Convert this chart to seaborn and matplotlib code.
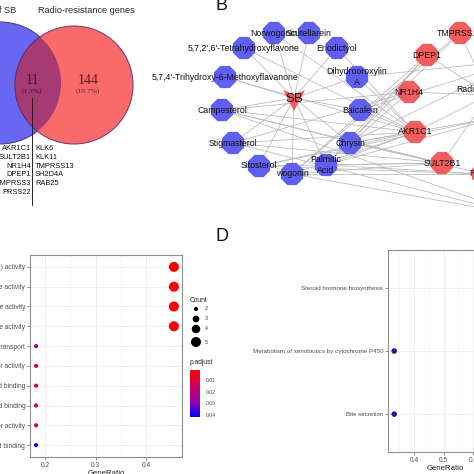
import matplotlib
matplotlib.use('Agg')
import numpy as np
import pandas as pd
import matplotlib.pyplot as plt
import seaborn as sns
from matplotlib.patches import Circle, Polygon
from matplotlib.collections import LineCollection
from matplotlib.colors import LinearSegmentedColormap, Normalize
from matplotlib.cm import ScalarMappable

sns.set_theme(style='white')
plt.rcParams['font.family'] = ['Liberation Sans', 'DejaVu Sans']

# ---------------- data ----------------
# A: venn
venn_titles = ['Targets of SB', 'Radio-resistance genes']
venn_counts = ['11', '144']
venn_pcts = ['(1.3%)', '(19.7%)']
shared_left = ['AKR1C1', 'SULT2B1', 'NR1H4', 'DPEP1', 'TMPRSS3', 'PRSS22']
shared_right = ['KLK6', 'KLK11', 'TMPRSS13', 'SH2D4A', 'RAB25']

# B: network
compounds = ['Norwogonin', 'Scutellarein', "5,7,2',6'-Tetrahydroxyflavone", 'Eriodictyol',
             "5,7,4'-Trihydroxy-6-Methoxyflavanone", 'Dihydrooroxylin\nA', 'Campesterol',
             'Baicalein', 'Stigmasterol', 'Chrysin', 'Sitosterol', 'wogonin', 'Palmitic\nAcid']
genes = ['TMPRSS13', 'DPEP1', 'NR1H4', 'AKR1C1', 'SULT2B1', 'RAB25', 'KLK6', 'KLK11', 'CYP4F11']
hub = 'SB'
radio = 'Radio-resistance\ngenes'
gene_links = {
    'AKR1C1': ['Norwogonin', "5,7,2',6'-Tetrahydroxyflavone", 'Eriodictyol',
               "5,7,4'-Trihydroxy-6-Methoxyflavanone", 'Dihydrooroxylin\nA', 'Campesterol',
               'Baicalein', 'Stigmasterol', 'Chrysin', 'Sitosterol', 'wogonin', 'Palmitic\nAcid'],
    'SULT2B1': ['Campesterol', 'Stigmasterol', 'Sitosterol', 'wogonin', 'Palmitic\nAcid', 'Chrysin'],
    'RAB25': ['wogonin', 'Palmitic\nAcid', 'Sitosterol', 'Campesterol'],
    'DPEP1': ['wogonin', 'Palmitic\nAcid', 'Chrysin'],
    'NR1H4': ['Palmitic\nAcid', 'Campesterol', 'Stigmasterol'],
    'TMPRSS13': ['Palmitic\nAcid', 'wogonin'],
    'KLK6': ['Chrysin', 'Baicalein', 'Dihydrooroxylin\nA'],
    'KLK11': ['Campesterol', 'Stigmasterol', 'wogonin'],
    'CYP4F11': ['Palmitic\nAcid', 'Sitosterol', 'Chrysin'],
}

# C: GO enrichment
go_terms = ['alcohol dehydrogenase (NADP+) activity',
            'phenanthrene 9,10-monooxygenase activity',
            'steroid dehydrogenase activity',
            'ketosteroid monooxygenase activity',
            'bile acid and bile salt transport',
            'nuclear steroid receptor activity',
            'steroid binding',
            'bile acid binding',
            'ligand-activated transcription factor activity',
            'carboxylic acid binding']
go_ratio = [0.455, 0.455, 0.455, 0.455, 0.182, 0.182, 0.182, 0.182, 0.182, 0.182]
go_count = [5, 5, 5, 5, 2, 2, 2, 2, 2, 2]
go_padj = [0.0015, 0.0015, 0.0015, 0.0015, 0.027, 0.013, 0.012, 0.012, 0.013, 0.041]

# D: KEGG enrichment
kegg_terms = ['Steroid hormone biosynthesis',
              'Metabolism of xenobiotics by cytochrome P450',
              'Bile secretion']
kegg_ratio = [0.667, 0.333, 0.333]

# ---------------- layout (pixel units) ----------------
node_pos = {
    'SB': (294, 98),
    'Norwogonin': (274, 33), 'Scutellarein': (309, 33),
    "5,7,2',6'-Tetrahydroxyflavone": (244, 48), 'Eriodictyol': (337, 48),
    "5,7,4'-Trihydroxy-6-Methoxyflavanone": (225, 77), 'Dihydrooroxylin\nA': (357, 77),
    'Campesterol': (222, 110), 'Baicalein': (360, 110),
    'Stigmasterol': (233, 143), 'Chrysin': (350, 143),
    'Sitosterol': (259, 166), 'wogonin': (292, 174), 'Palmitic\nAcid': (326, 165),
    'TMPRSS13': (460, 33), 'DPEP1': (427, 55), 'NR1H4': (409, 92), 'AKR1C1': (415, 132),
    'SULT2B1': (442, 163), 'RAB25': (483, 174), 'KLK6': (520, 60), 'KLK11': (520, 215),
    'CYP4F11': (500, 117),
    'Radio-resistance\ngenes': (489, 95),
}
hub_shape = [(-11, -8), (0, -3), (11, -8), (0, 13)]

fig = plt.figure(figsize=(4.74, 4.74), dpi=100)
base = fig.add_axes([0, 0, 1, 1])
base.set_xlim(0, 474)
base.set_ylim(474, 0)
base.axis('off')

# ---------------- A: venn ----------------
blue = Circle((0, 83), 61, facecolor='#6767F4', edgecolor='#5a3d8a', lw=0.8, zorder=1)
red = Circle((74, 85), 59, facecolor='#F96B6B', edgecolor='#7a3f7a', lw=0.8, zorder=2)
base.add_patch(blue)
base.add_patch(red)
mid = Circle((74, 85), 59, facecolor='#A63A72', edgecolor='#6a2f6a', lw=0.8, zorder=3)
base.add_patch(mid)
mid.set_clip_path(Circle((0, 83), 61, transform=base.transData))
base.text(16, 10, venn_titles[0], ha='right', va='center', fontsize=6.6)
base.text(86, 10, venn_titles[1], ha='center', va='center', fontsize=6.6)
for x, c, p, col in [(32, venn_counts[0], venn_pcts[0], '#3b1733'), (88, venn_counts[1], venn_pcts[1], '#5e1f1f')]:
    base.text(x, 80, c, ha='center', va='center', fontsize=10, family='Liberation Serif', color=col, zorder=5)
    base.text(x, 91, p, ha='center', va='center', fontsize=5.4, family='Liberation Serif', color=col, zorder=5)
base.plot([32, 32], [98, 205], color='#222222', lw=0.7, zorder=5)
for i, g in enumerate(shared_left):
    base.text(31, 149 + i * 8.6, g, ha='right', va='center', fontsize=5.4, color='#111111')
for i, g in enumerate(shared_right):
    base.text(35, 149 + i * 8.6, g, ha='left', va='center', fontsize=5.4, color='#111111')

# ---------------- B: network ----------------
edges = [(hub, c) for c in compounds]
for g, cs in gene_links.items():
    edges += [(g, c) for c in cs]
edges += [(radio, g) for g in genes]
segs = [[node_pos[a], node_pos[b]] for a, b in edges]
base.add_collection(LineCollection(segs, colors='#b8b8b8', linewidths=0.55, zorder=6))

cx = [node_pos[c][0] for c in compounds]
cy = [node_pos[c][1] for c in compounds]
gx = [node_pos[g][0] for g in genes]
gy = [node_pos[g][1] for g in genes]
base.scatter(cx, cy, s=300, marker='8', color='#5F5FF2', edgecolor='none', zorder=7)
base.scatter(gx, gy, s=300, marker='8', color='#F25E5E', edgecolor='none', zorder=7)
base.scatter([node_pos[radio][0]], [node_pos[radio][1]], s=300, marker='8', color='#5F5FF2',
             edgecolor='none', zorder=7)
hx, hy = node_pos[hub]
base.add_patch(Polygon([(hx + dx, hy + dy) for dx, dy in hub_shape], closed=True,
                       facecolor='#F25E5E', edgecolor='none', zorder=7.5))
for n in compounds + genes + [radio]:
    x, y = node_pos[n]
    base.text(x, y, n, ha='center', va='center', fontsize=6.3, color='#111111',
              linespacing=1.25, zorder=8)
base.text(hx, hy + 1, hub, ha='center', va='center', fontsize=9.5, color='#111111', zorder=8)

base.text(222, 5.5, 'B', ha='center', va='center', fontsize=13, color='#111111')
base.text(222, 236.5, 'D', ha='center', va='center', fontsize=13, color='#111111')

# ---------------- C: GO dot plot ----------------
cmap = LinearSegmentedColormap.from_list('padj', ['#FF0000', '#D0005A', '#9A00A8', '#0000FF'])
vmin, vmax = 0.0013, 0.0417
go_df = pd.DataFrame({'Description': go_terms, 'GeneRatio': go_ratio,
                      'Count': go_count, 'p.adjust': go_padj})

def style_panel(ax):
    ax.set_facecolor('white')
    for s in ax.spines.values():
        s.set_color('#8f8f8f')
        s.set_linewidth(0.8)
    ax.grid(True, which='major', color='#EBEBEB', lw=0.6)
    ax.grid(True, which='minor', axis='x', color='#F3F3F3', lw=0.45)
    ax.set_axisbelow(True)
    ax.tick_params(axis='both', which='major', labelsize=4.8, labelcolor='#4d4d4d',
                   length=2, width=0.5, color='#666666', pad=1.5, left=True, bottom=True)
    ax.set_xlabel('GeneRatio', fontsize=5.6, color='#222222', labelpad=1)
    ax.set_ylabel('')

axC = fig.add_axes([30 / 474, (474 - 457) / 474, 152 / 474, 202 / 474])
sns.scatterplot(data=go_df, x='GeneRatio', y='Description', size='Count', hue='p.adjust',
                palette=cmap, hue_norm=(vmin, vmax), sizes=(9, 52), size_norm=(2, 5),
                edgecolor='none', legend=False, ax=axC, zorder=3)
axC.set_xlim(0.170, 0.471)
axC.set_ylim(len(go_terms) - 1 + 0.6, -0.6)
axC.set_xticks([0.2, 0.3, 0.4])
axC.set_xticks([0.25, 0.35, 0.45], minor=True)
axC.tick_params(axis='x', which='minor', length=0)
style_panel(axC)

# legends of C
base.text(190, 300, 'Count', ha='left', va='center', fontsize=4.8, color='#222222')
leg_counts = [2, 3, 4, 5]
leg_y = [309, 319, 329, 342]
for c, y in zip(leg_counts, leg_y):
    base.scatter([196], [y], s=9 + (52 - 9) * (c - 2) / 3, color='black', edgecolor='none', zorder=9)
    base.text(205, y, str(c), ha='left', va='center', fontsize=3.8, color='#333333')
base.text(190, 363, 'p.adjust', ha='left', va='center', fontsize=4.8, color='#222222')
cax = fig.add_axes([190 / 474, (474 - 417) / 474, 10 / 474, 47 / 474])
cb = fig.colorbar(ScalarMappable(norm=Normalize(vmin, vmax), cmap=cmap), cax=cax)
cb.outline.set_visible(False)
cax.invert_yaxis()
cb.set_ticks([0.01, 0.02, 0.03, 0.04])
cb.set_ticklabels(['0.01', '0.02', '0.03', '0.04'])
cax.tick_params(labelsize=3.6, labelcolor='#444444', length=2, color='white', width=0.5, pad=2)

# ---------------- D: KEGG dot plot ----------------
kegg_df = pd.DataFrame({'Description': kegg_terms, 'GeneRatio': kegg_ratio})
axD = fig.add_axes([388 / 474, (474 - 452) / 474, 114 / 474, 202 / 474])
sns.scatterplot(data=kegg_df, x='GeneRatio', y='Description', s=16, color='#1c1c9e',
                edgecolor='none', legend=False, ax=axD, zorder=3)
axD.set_xlim(0.312, 0.698)
axD.set_ylim(len(kegg_terms) - 1 + 0.6, -0.6)
axD.set_xticks([0.4, 0.5, 0.6])
axD.set_xticks([0.35, 0.45, 0.55, 0.65], minor=True)
axD.tick_params(axis='x', which='minor', length=0)
style_panel(axD)
axD.tick_params(axis='y', labelsize=4.5)

fig.savefig('out.png', dpi=100, facecolor='white')
